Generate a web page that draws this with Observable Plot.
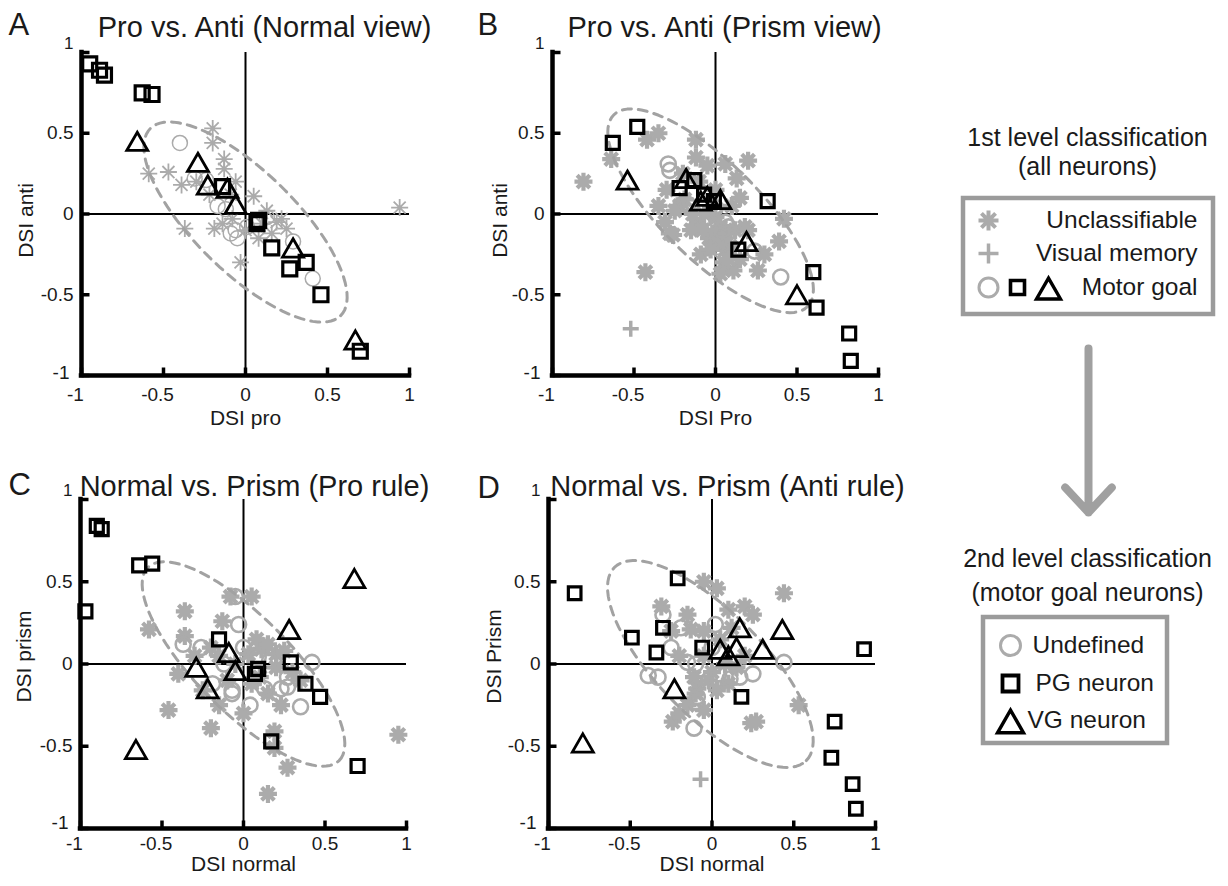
<!DOCTYPE html>
<html>
<head>
<meta charset="utf-8">
<script src="https://cdn.jsdelivr.net/npm/d3@7"></script>
<script src="https://cdn.jsdelivr.net/npm/@observablehq/plot@0.6"></script>
<style>
  body { margin: 0; background: #fff; }
  #fig { position: relative; width: 1228px; height: 886px; overflow: hidden; background: #fff; }
  #fig > svg { position: absolute; }
</style>
</head>
<body>
<div id="fig"></div>
<script>
// ---------- data: direction selectivity indices, [x, y] per neuron ----------

// A: pro vs. anti (normal view)   x = DSI pro, y = DSI anti
const aUnclassifiable = [[-0.20,0.53],[-0.20,0.44],[-0.59,0.25],[-0.47,0.26],[-0.39,0.18],[-0.30,0.20],[-0.13,0.34],[-0.13,0.28],[-0.06,0.20],[-0.09,0.12],[0.05,0.11],[0.94,0.04],[-0.37,-0.09],[-0.19,-0.09],[-0.14,-0.06],[-0.08,-0.03],[-0.03,-0.30],[0.13,0.02],[0.19,-0.05],[0.25,-0.09],[0.08,-0.15],[0.16,-0.12],[0.22,-0.03],[0.00,-0.10],[0.10,-0.06],[-0.22,0.12]];
const aVisualMemory = [];
const aUndefined = [[-0.40,0.44],[-0.31,0.22],[-0.24,0.21],[-0.17,0.05],[-0.12,0.03],[-0.09,-0.12],[-0.05,-0.15],[0.01,-0.08],[0.13,-0.02],[0.29,-0.17],[0.41,-0.40],[-0.06,-0.10]];
const aPG = [[-0.95,0.93],[-0.89,0.89],[-0.86,0.86],[-0.63,0.75],[-0.57,0.74],[-0.14,0.17],[0.07,-0.06],[0.08,-0.04],[0.16,-0.21],[0.37,-0.30],[0.27,-0.34],[0.46,-0.50],[0.70,-0.85]];
const aVG = [[-0.66,0.45],[-0.29,0.32],[-0.23,0.18],[-0.11,0.16],[-0.06,0.06],[0.29,-0.21],[0.67,-0.78]];

// B: pro vs. anti (prism view)   x = DSI pro, y = DSI anti
const bUnclassifiable = [[-0.81,0.20],[-0.64,0.34],[-0.42,0.46],[-0.35,0.50],[-0.12,0.46],[-0.12,0.35],[-0.05,0.30],[0.06,0.31],[0.20,0.33],[0.13,0.22],[0.42,-0.03],[0.39,-0.17],[-0.31,-0.05],[-0.26,-0.13],[-0.09,-0.25],[-0.43,-0.36],[0.03,-0.37],[0.11,-0.35],[0.26,-0.35],[-0.12,-0.07],[0.00,-0.02],[0.03,-0.08],[0.09,-0.20],[-0.19,0.09],[-0.07,0.00],[-0.28,-0.12],[0.05,-0.30],[-0.04,-0.15],[0.06,-0.22],[-0.15,-0.10],[0.10,0.05],[-0.20,0.25],[0.15,-0.28],[-0.02,-0.12],[0.02,-0.18],[0.07,-0.12],[-0.08,-0.10],[0.12,-0.10],[-0.03,-0.22],[0.08,-0.28],[-0.14,0.00],[-0.22,0.05],[0.18,-0.08],[-0.30,0.15],[-0.25,0.02],[0.00,0.15],[-0.10,0.20],[0.15,0.10],[0.20,-0.10],[-0.35,0.05],[0.30,-0.25]];
const bVisualMemory = [[-0.52,-0.71]];
const bUndefined = [[-0.29,0.31],[-0.28,0.27],[0.08,-0.08],[0.04,-0.10],[0.24,-0.23],[0.40,-0.39],[0.00,0.04],[-0.17,0.06],[0.06,-0.05],[-0.05,-0.02]];
const bPG = [[-0.63,0.44],[-0.48,0.54],[-0.22,0.16],[-0.13,0.21],[-0.07,0.12],[-0.01,0.08],[0.32,0.08],[0.14,-0.22],[0.60,-0.36],[0.62,-0.58],[0.82,-0.74],[0.83,-0.91]];
const bVG = [[-0.54,0.21],[-0.18,0.22],[-0.05,0.11],[0.03,0.09],[-0.09,0.08],[0.19,-0.17],[0.50,-0.50]];

// C: normal vs. prism (pro rule)   x = DSI normal, y = DSI prism
const cUnclassifiable = [[-0.36,0.32],[-0.58,0.21],[-0.08,0.41],[0.05,0.41],[-0.13,0.26],[-0.36,0.17],[-0.40,-0.06],[-0.46,-0.28],[-0.20,-0.39],[0.15,-0.18],[0.23,-0.25],[0.19,-0.41],[0.11,0.09],[0.03,0.06],[0.20,0.06],[0.27,-0.63],[0.15,-0.79],[0.19,-0.51],[0.95,-0.43],[-0.25,-0.16],[-0.30,0.05],[-0.15,-0.25],[0.08,0.15],[-0.20,0.10],[0.10,-0.08],[0.20,-0.02],[0.30,-0.05],[0.05,-0.12],[-0.05,0.00],[0.15,0.12],[0.35,-0.10],[0.00,-0.30],[-0.10,-0.10],[0.25,0.08],[-0.15,0.05]];
const cVisualMemory = [];
const cUndefined = [[-0.05,0.41],[-0.03,0.24],[-0.37,0.12],[-0.26,0.10],[0.09,0.04],[0.16,0.02],[0.42,0.01],[0.27,-0.08],[0.35,-0.26],[0.04,-0.25],[-0.07,-0.16],[-0.19,-0.12],[0.13,-0.15],[0.23,-0.15],[-0.07,-0.18],[0.27,-0.14],[-0.12,0.00],[0.00,0.10]];
const cPG = [[-0.90,0.84],[-0.87,0.82],[-0.97,0.32],[-0.64,0.60],[-0.56,0.61],[-0.15,0.15],[0.09,-0.03],[0.07,-0.06],[0.29,0.01],[0.38,-0.12],[0.47,-0.20],[0.17,-0.47],[0.70,-0.62]];
const cVG = [[0.68,0.52],[0.28,0.21],[-0.09,0.07],[-0.29,-0.02],[-0.05,-0.04],[-0.22,-0.15],[-0.66,-0.52]];

// D: normal vs. prism (anti rule)   x = DSI normal, y = DSI prism
const dUnclassifiable = [[-0.05,0.50],[0.03,0.46],[0.44,0.43],[-0.31,0.35],[0.10,0.33],[0.20,0.35],[-0.13,0.21],[-0.11,-0.08],[-0.09,-0.15],[-0.02,-0.10],[-0.24,-0.35],[0.27,-0.35],[0.53,-0.25],[0.03,-0.16],[-0.10,-0.18],[0.24,-0.36],[-0.20,-0.30],[0.08,0.00],[-0.05,0.05],[0.15,-0.02],[-0.15,0.30],[-0.05,0.20],[0.05,0.15],[0.12,0.22],[-0.20,0.05],[0.00,-0.05],[0.10,-0.12],[-0.15,-0.25],[0.20,0.05],[-0.25,0.20],[0.25,0.30],[-0.05,-0.28]];
const dVisualMemory = [[-0.07,-0.70]];
const dUndefined = [[-0.30,0.30],[-0.19,0.22],[0.02,0.24],[-0.10,0.00],[-0.15,0.01],[-0.39,-0.07],[-0.33,-0.08],[0.04,-0.06],[0.17,-0.08],[0.11,-0.09],[0.44,0.01],[-0.11,-0.39],[-0.10,-0.23],[0.25,-0.06],[-0.09,-0.20],[-0.25,0.10],[0.00,0.10]];
const dPG = [[-0.84,0.43],[-0.21,0.52],[-0.49,0.16],[-0.30,0.22],[-0.34,0.07],[-0.06,0.10],[0.93,0.09],[0.18,-0.20],[0.75,-0.35],[0.73,-0.57],[0.86,-0.73],[0.88,-0.88]];
const dVG = [[0.17,0.22],[0.43,0.21],[0.05,0.09],[0.15,0.10],[0.31,0.09],[-0.23,-0.15],[-0.79,-0.48],[0.10,0.05]];

// population ellipses: [centre x, centre y, semi-major, semi-minor, tilt in degrees]
const aEllipse = [0.00, -0.05, 0.82, 0.31, -45];
const bEllipse = [-0.03, 0.02, 0.84, 0.30, -45];
const cEllipse = [0.00, 0.00, 0.83, 0.29, -45];
const dEllipse = [-0.01, 0.00, 0.83, 0.32, -45];

// axes and labels
const axisTicks = [-1, -0.5, 0, 0.5, 1];
const panelLetters = ["A", "B", "C", "D"];
const panelTitles = ["Pro vs. Anti (Normal view)", "Pro vs. Anti (Prism view)", "Normal vs. Prism (Pro rule)", "Normal vs. Prism (Anti rule)"];
const xLabels = ["DSI pro", "DSI Pro", "DSI normal", "DSI normal"];
const yLabels = ["DSI anti", "DSI anti", "DSI prism", "DSI Prism"];
const legend1Title = ["1st level classification", "(all neurons)"];
const legend1Items = ["Unclassifiable", "Visual memory", "Motor goal"];
const legend2Title = ["2nd level classification", "(motor goal neurons)"];
const legend2Items = ["Undefined", "PG neuron", "VG neuron"];

// ---------- styling ----------
const FONT = '"Liberation Sans", Arial, Helvetica, sans-serif';
const INK = "#1a1a1a";
const GRAY = "#ababab";
const DASH_GRAY = "#a2a2a2";

// marker shapes (radius derived from the dot's area)
const sym = (fn) => ({ draw(ctx, size) { fn(ctx, Math.sqrt(size / Math.PI)); } });
const asterisk8 = sym((c, r) => {
  for (let k = 0; k < 4; k++) {
    const a = k * Math.PI / 4, dx = r * Math.cos(a), dy = r * Math.sin(a);
    c.moveTo(-dx, -dy); c.lineTo(dx, dy);
  }
});
const plusSym = sym((c, r) => { c.moveTo(-r, 0); c.lineTo(r, 0); c.moveTo(0, -r); c.lineTo(0, r); });
const squareSym = sym((c, r) => { c.moveTo(-r, -r); c.lineTo(r, -r); c.lineTo(r, r); c.lineTo(-r, r); c.closePath(); });
const triangleSym = sym((c, r) => { const h = r * 0.87; c.moveTo(0, -h); c.lineTo(r, h); c.lineTo(-r, h); c.closePath(); });
const tickUp = sym((c, r) => { c.moveTo(0, 0); c.lineTo(0, -r); });
const tickRight = sym((c, r) => { c.moveTo(0, 0); c.lineTo(r, 0); });

function ellipseOutline([cx, cy, a, b, deg]) {
  const t = deg * Math.PI / 180;
  return d3.range(0, 360, 4).map((u) => {
    const w = u * Math.PI / 180, ex = a * Math.cos(w), ey = b * Math.sin(w);
    return [cx + ex * Math.cos(t) - ey * Math.sin(t), cy + ex * Math.sin(t) + ey * Math.cos(t)];
  });
}

const fmt = (d) => String(d);
const px = (d) => d[0], py = (d) => d[1];

// one scatter panel; svg = [left, top, width, height], plot = [left, right, top, bottom] of the data area (page pixels)
function panel({svg, plot, unclass, visual, undef, pg, vg, ellipse, xLabel, thin, tickLabelDy, xLabelDy, minusOneDy, sq}) {
  const [L, T, W, H] = svg;
  const chart = Plot.plot({
    width: W, height: H,
    marginLeft: plot[0] - L, marginRight: L + W - plot[1],
    marginTop: plot[2] - T, marginBottom: T + H - plot[3],
    x: {domain: [-1, 1], axis: null},
    y: {domain: [-1, 1], axis: null},
    style: {background: "none", fontFamily: FONT, color: INK, overflow: "visible"},
    marks: [
      // zero lines
      Plot.ruleX([0], {y1: -1, y2: 1, stroke: "#000", strokeWidth: 2}),
      Plot.ruleY([0], {x1: -1, x2: 1, stroke: "#000", strokeWidth: 2}),
      // non motor-goal and undefined neurons
      Plot.dot(unclass, {x: px, y: py, symbol: asterisk8, r: thin ? 8.5 : 9, stroke: GRAY, strokeWidth: thin ? 1.8 : 4.2, fill: "none"}),
      Plot.dot(visual, {x: px, y: py, symbol: plusSym, r: 8, stroke: GRAY, strokeWidth: 3.5, fill: "none"}),
      Plot.dot(undef, {x: px, y: py, symbol: "circle", r: 7.5, stroke: GRAY, strokeWidth: thin ? 1.5 : 2.6, fill: "none"}),
      // population ellipse
      Plot.line(ellipseOutline(ellipse), {x: px, y: py, curve: "linear-closed", stroke: DASH_GRAY, strokeWidth: 3, strokeDasharray: "9,7"}),
      // axes with inward ticks
      Plot.ruleY([-1], {x1: -1, x2: 1, stroke: "#000", strokeWidth: 4.5, strokeLinecap: "square"}),
      Plot.ruleX([-1], {y1: -1, y2: 1, stroke: "#000", strokeWidth: 4.5, strokeLinecap: "square"}),
      Plot.dot(axisTicks, {x: (d) => d, y: -1, symbol: tickUp, r: 8, stroke: "#000", strokeWidth: 3.5}),
      Plot.dot(axisTicks, {x: -1, y: (d) => d, symbol: tickRight, r: 8, stroke: "#000", strokeWidth: 3.5}),
      // motor goal neurons
      Plot.dot(pg, {x: px, y: py, symbol: squareSym, r: sq, stroke: "#000", strokeWidth: 3.2, fill: "none"}),
      Plot.dot(vg, {x: px, y: py, symbol: triangleSym, r: 10.5, stroke: "#000", strokeWidth: 2.8, fill: "none"}),
      // tick labels
      Plot.text(axisTicks.filter((d) => d < 0), {x: (d) => d, y: -1, text: fmt, dy: tickLabelDy, dx: -6, fontSize: 19, fill: INK}),
      Plot.text(axisTicks.filter((d) => d >= 0), {x: (d) => d, y: -1, text: fmt, dy: tickLabelDy, fontSize: 19, fill: INK}),
      Plot.text(axisTicks.filter((d) => Math.abs(d) < 1), {x: -1, y: (d) => d, text: fmt, textAnchor: "end", dx: -8, fontSize: 19, fill: INK}),
      Plot.text([1], {x: -1, y: (d) => d, text: fmt, textAnchor: "end", dx: -8, dy: -9, fontSize: 17, fill: INK}),
      Plot.text([-1], {x: -1, y: (d) => d, text: fmt, textAnchor: "end", dx: -12, dy: minusOneDy, fontSize: 19, fill: INK}),
      // x-axis title
      Plot.text([xLabel], {frameAnchor: "bottom", dy: xLabelDy, fontSize: 21, fill: INK})
    ]
  });
  chart.style.left = L + "px";
  chart.style.top = T + "px";
  return chart;
}

const fig = document.getElementById("fig");

// ---------- titles, y-axis titles, legends and arrow (page-pixel scales) ----------
const titleSpots = [[264, 36], [724, 36], [254, 495], [727, 495]];
const letterSpots = [[8, 34], [477, 34], [8, 494], [477, 497]];
const yLabelSpots = [[26, 220], [500, 220], [24, 656], [494, 656]];
const legendItems1 = legend1Items.map((t, i) => ({t, y: [220, 253, 287][i]}));
const legendItems2 = legend2Items.map((t, i) => ({t, x: [1032, 1035, 1027][i], y: [645, 683, 720][i]}));

const overlay = Plot.plot({
  width: 1228, height: 886, margin: 0,
  x: {domain: [0, 1228], range: [0, 1228], axis: null},
  y: {domain: [0, 886], range: [0, 886], axis: null},
  style: {background: "none", fontFamily: FONT, color: INK},
  marks: [
    Plot.text(panelTitles, {x: (d, i) => titleSpots[i][0], y: (d, i) => titleSpots[i][1], text: (d) => d, lineAnchor: "bottom", fontSize: 29, fill: INK}),
    Plot.text(panelLetters, {x: (d, i) => letterSpots[i][0], y: (d, i) => letterSpots[i][1], text: (d) => d, textAnchor: "start", lineAnchor: "bottom", fontSize: 31, fill: INK}),
    Plot.text(yLabels, {x: (d, i) => yLabelSpots[i][0], y: (d, i) => yLabelSpots[i][1], text: (d) => d, rotate: -90, fontSize: 21, fill: INK}),
    // first-level legend
    Plot.text(legend1Title, {x: 1087, y: (d, i) => [137, 166][i], text: (d) => d, fontSize: 25, fill: INK}),
    Plot.rect([0], {x1: 963, x2: 1213, y1: 198, y2: 314, fill: "none", stroke: "#9b9b9b", strokeWidth: 4.5}),
    Plot.text(legendItems1, {x: 1197, y: "y", text: "t", textAnchor: "end", fontSize: 24.5, fill: INK}),
    Plot.dot([0], {x: 988, y: 220, symbol: asterisk8, r: 10, stroke: GRAY, strokeWidth: 4}),
    Plot.dot([0], {x: 988, y: 253, symbol: plusSym, r: 10, stroke: GRAY, strokeWidth: 3.5}),
    Plot.dot([0], {x: 988, y: 287, symbol: "circle", r: 9.5, stroke: GRAY, strokeWidth: 3, fill: "none"}),
    Plot.dot([0], {x: 1017, y: 287, symbol: squareSym, r: 7, stroke: "#000", strokeWidth: 3.6, fill: "none"}),
    Plot.dot([0], {x: 1048, y: 288, symbol: triangleSym, r: 12, stroke: "#000", strokeWidth: 3.4, fill: "none"}),
    // arrow between the two levels
    Plot.arrow([0], {x1: 1088, y1: 348, x2: 1088, y2: 512, stroke: "#a0a0a0", strokeWidth: 8, headLength: 6.4, headAngle: 86}),
    // second-level legend
    Plot.text(legend2Title, {x: 1087, y: (d, i) => [558, 592][i], text: (d) => d, fontSize: 25, fill: INK}),
    Plot.rect([0], {x1: 983, x2: 1167, y1: 617, y2: 743, fill: "none", stroke: "#9b9b9b", strokeWidth: 4.5}),
    Plot.text(legendItems2, {x: "x", y: "y", text: "t", textAnchor: "start", fontSize: 24.5, fill: INK}),
    Plot.dot([0], {x: 1010, y: 645, symbol: "circle", r: 10, stroke: GRAY, strokeWidth: 3, fill: "none"}),
    Plot.dot([0], {x: 1010, y: 683, symbol: squareSym, r: 8, stroke: "#000", strokeWidth: 3.8, fill: "none"}),
    Plot.dot([0], {x: 1010, y: 721, symbol: triangleSym, r: 13, stroke: "#000", strokeWidth: 3.4, fill: "none"})
  ]
});
overlay.style.left = "0px";
overlay.style.top = "0px";
fig.appendChild(overlay);

// ---------- the four scatter panels ----------
fig.appendChild(panel({svg: [0, 0, 460, 450], plot: [81, 409, 52, 375], unclass: aUnclassifiable, visual: aVisualMemory, undef: aUndefined, pg: aPG, vg: aVG, ellipse: aEllipse, xLabel: xLabels[0], thin: true, tickLabelDy: 19, xLabelDy: 49, minusOneDy: -3, sq: 7}));
fig.appendChild(panel({svg: [470, 0, 440, 450], plot: [552, 878, 52, 375], unclass: bUnclassifiable, visual: bVisualMemory, undef: bUndefined, pg: bPG, vg: bVG, ellipse: bEllipse, xLabel: xLabels[1], thin: false, tickLabelDy: 19, xLabelDy: 49, minusOneDy: -3, sq: 6.5}));
fig.appendChild(panel({svg: [0, 448, 460, 438], plot: [80, 406, 499, 828], unclass: cUnclassifiable, visual: cVisualMemory, undef: cUndefined, pg: cPG, vg: cVG, ellipse: cEllipse, xLabel: xLabels[2], thin: false, tickLabelDy: 15, xLabelDy: 42, minusOneDy: -6, sq: 6.5}));
fig.appendChild(panel({svg: [470, 448, 440, 438], plot: [548, 875, 499, 828], unclass: dUnclassifiable, visual: dVisualMemory, undef: dUndefined, pg: dPG, vg: dVG, ellipse: dEllipse, xLabel: xLabels[3], thin: false, tickLabelDy: 15, xLabelDy: 42, minusOneDy: -6, sq: 6.3}));
</script>
</body>
</html>
